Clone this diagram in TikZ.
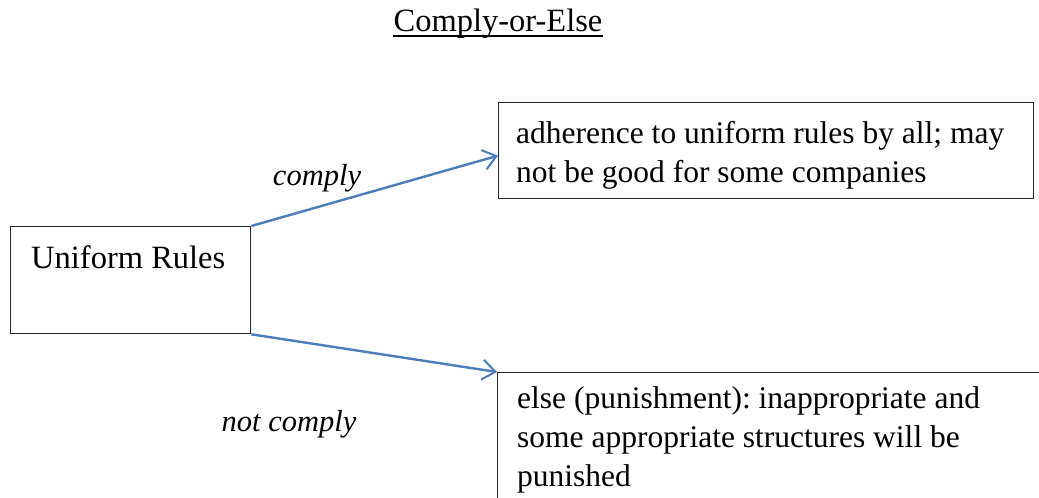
\documentclass[tikz,border=0pt]{standalone}
\usepackage{fontspec}
\setmainfont{Liberation Serif}
\usetikzlibrary{arrows.meta}
\definecolor{arrowblue}{HTML}{4A7EBB}
\definecolor{boxline}{HTML}{262626}
\frenchspacing
\tikzset{
  box/.style={draw=boxline, line width=1.3pt, inner sep=0pt, anchor=north west},
  boxtext/.style={anchor=base west, inner sep=0pt, font=\fontsize{31.5}{39}\selectfont},
  conn/.style={draw=arrowblue, line width=2.4pt, -{Straight Barb[length=13pt,width=20pt,line width=2pt]}},
  lab/.style={inner sep=0pt, anchor=base, font=\fontsize{30.5}{36}\selectfont\itshape},
}
\begin{document}
\begin{tikzpicture}[x=1pt,y=-1pt]
\useasboundingbox (0,0) rectangle (1039,498);
\clip (0,0) rectangle (1039,498);
% title
\node[inner sep=0pt, anchor=base, font=\fontsize{32.5}{38}\selectfont] (title) at (498,31) {Comply-or-Else};
\draw[line width=1.2pt] ([yshift=-5pt]title.base west) -- ([yshift=-5pt]title.base east);
% boxes
\node[box, minimum width=240pt, minimum height=107pt] (rules) at (10,226) {};
\node[box, minimum width=535pt, minimum height=96pt] (comply) at (498,102) {};
\node[box, minimum width=560pt, minimum height=160pt] (else) at (497,372) {};
% texts
\node[boxtext, font=\fontsize{32.5}{38}\selectfont] (rulestext) at (31,268) {Uniform Rules};
\node[boxtext] (complytext) at (516,143) {\parbox[t]{510pt}{adherence to uniform rules by all; may\\not be good for some companies}};
\node[boxtext] (elsetext) at (517,408) {\parbox[t]{520pt}{else (punishment): inappropriate and\\some appropriate structures will be\\punished}};
% connectors
\draw[conn] (rules.north east) -- ([yshift=-5pt]comply.west);
\draw[conn] (rules.south east) -- (else.north west);
% labels
\node[lab] (l1) at (317,185) {comply};
\node[lab] (l2) at (289,431) {not comply};
\end{tikzpicture}
\end{document}
